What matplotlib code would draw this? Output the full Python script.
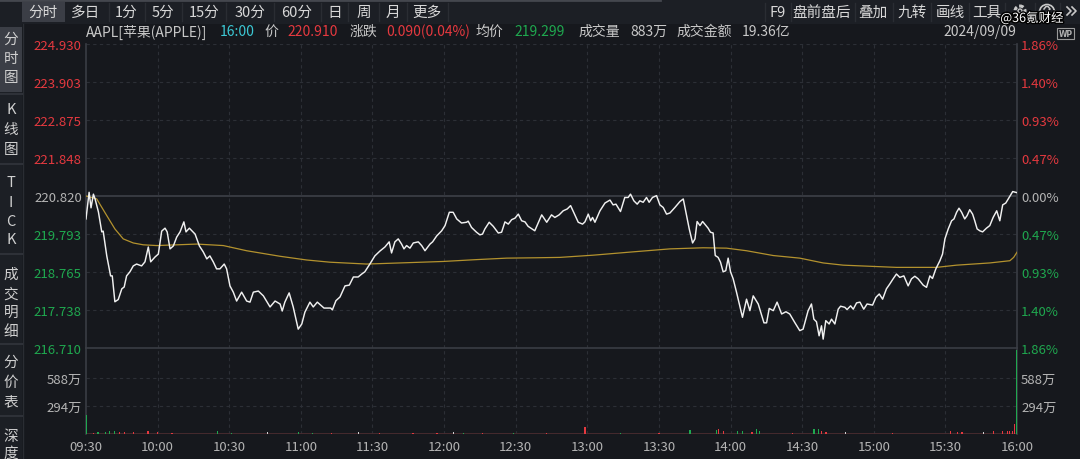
import matplotlib
matplotlib.use("Agg")
import matplotlib.pyplot as plt
from matplotlib.patches import Rectangle, Circle
import matplotlib.patheffects as pe

plt.rcParams['font.family'] = ['Noto Sans CJK SC', 'DejaVu Sans']

W, H = 1080, 460

# minutes after 09:30 and price
price_t = [0, 1.3, 2.1, 3.1, 3.8, 5.2, 6.6, 7.2, 8.7, 10.3,
           11.0, 12.1, 13.5, 15.0, 16.0, 17.0, 18.4, 19.8, 21.2, 23.3,
           24.7, 26.1, 27.1, 28.9, 30.3, 31.7, 33.1, 34.0, 35.2, 36.6,
           38.0, 39.4, 41.0, 41.9, 43.3, 45.7, 47.5, 49.1, 50.6, 51.9,
           53.3, 54.7, 56.1, 57.9, 58.9, 60.3, 61.7, 63.1, 65.2, 67.3,
           68.7, 70.1, 72.2, 74.3, 77.1, 79.2, 81.3, 82.2, 83.3, 85.1,
           86.8, 88.9, 90.4, 91.7, 93.8, 95.2, 96.9, 99.7, 102.5, 103.2,
           104.7, 106.4, 108.5, 110.3, 112.0, 114.0, 115.5, 116.8, 118.9, 121.0,
           123.1, 125.2, 127.0, 128.0, 129.4, 130.8, 132.2, 133.2, 134.3, 135.7,
           137.1, 139.2, 140.6, 142.0, 144.1, 145.2, 146.9, 149.0, 150.4, 152.2,
           153.8, 155.3, 157.3, 159.4, 160.1, 161.5, 163.6, 165.0, 166.1, 167.1,
           168.9, 170.6, 172.7, 174.1, 175.5, 176.9, 178.3, 179.7, 181.1, 182.5,
           183.9, 185.2, 188.0, 189.4, 190.9, 193.0, 195.0, 196.4, 198.2, 199.9,
           201.6, 203.0, 204.4, 206.2, 208.0, 209.0, 210.4, 211.4, 212.2, 213.2,
           215.3, 217.4, 219.5, 220.8, 222.0, 223.9, 225.7, 227.1, 228.1, 229.5,
           230.9, 232.0, 233.4, 234.8, 235.9, 237.3, 239.0, 240.4, 241.8, 243.2,
           244.6, 246.7, 248.8, 250.2, 251.6, 252.7, 254.1, 255.1, 256.0, 257.2,
           258.3, 259.7, 260.6, 261.6, 262.7, 263.6, 264.8, 265.8, 266.9, 268.0,
           269.0, 270.0, 271.1, 272.5, 275.0, 276.7, 278.1, 279.5, 281.6, 284.0,
           285.1, 286.2, 287.9, 289.5, 291.4, 293.2, 294.8, 296.9, 299.0, 300.4,
           302.5, 303.9, 304.9, 306.0, 307.1, 308.1, 308.8, 309.9, 311.3, 312.3,
           313.7, 315.1, 316.1, 317.9, 318.8, 320.3, 321.4, 322.8, 324.2, 325.8,
           327.2, 329.5, 330.9, 332.3, 333.7, 335.3, 336.7, 338.1, 339.5, 340.9,
           342.6, 344.4, 345.8, 347.2, 348.6, 350.7, 352.1, 353.5, 354.6, 356.0,
           357.7, 358.8, 359.8, 361.2, 362.6, 363.6, 364.7, 365.7, 366.8, 368.1,
           369.1, 370.2, 371.4, 372.3, 373.3, 374.4, 375.6, 377.2, 378.6, 380.0,
           381.5, 382.8, 384.0, 385.3, 386.7, 388.2, 390]
price_v = [220.20, 220.92, 220.50, 220.87, 220.74, 220.39, 219.85, 219.87, 219.20, 218.66,
           218.66, 217.96, 218.02, 218.31, 218.36, 218.66, 218.77, 218.93, 218.98, 218.93,
           219.04, 219.44, 219.04, 219.17, 219.25, 219.87, 219.95, 219.85, 219.39, 219.47,
           219.71, 219.85, 220.12, 219.85, 219.95, 219.79, 219.47, 219.31, 219.12, 219.20,
           219.04, 218.85, 218.85, 218.98, 218.85, 218.39, 218.22, 217.98, 218.22, 217.98,
           217.95, 218.22, 218.25, 218.12, 217.82, 217.98, 217.90, 217.71, 217.95, 218.20,
           217.82, 217.22, 217.36, 217.68, 217.95, 217.82, 217.95, 217.79, 217.79, 217.74,
           217.99, 218.09, 218.39, 218.41, 218.63, 218.63, 218.71, 218.77, 218.98, 219.20,
           219.33, 219.44, 219.58, 219.28, 219.58, 219.66, 219.52, 219.39, 219.48, 219.41,
           219.55, 219.58, 219.48, 219.34, 219.52, 219.58, 219.74, 219.88, 220.02, 220.38,
           220.38, 220.20, 220.09, 220.11, 220.14, 219.97, 219.84, 219.77, 219.79, 219.93,
           220.11, 220.00, 219.82, 219.84, 220.12, 220.06, 220.18, 220.22, 220.33, 220.15,
           220.12, 220.00, 219.88, 220.09, 220.31, 220.11, 220.31, 220.24, 220.31, 220.42,
           220.47, 220.56, 220.36, 220.11, 220.06, 220.12, 220.33, 220.15, 220.24, 220.11,
           220.42, 220.63, 220.71, 220.58, 220.60, 220.40, 220.78, 220.78, 220.87, 220.69,
           220.60, 220.69, 220.65, 220.78, 220.65, 220.78, 220.83, 220.58, 220.51, 220.33,
           220.36, 220.51, 220.67, 220.74, 220.29, 219.93, 219.55, 219.66, 220.13, 220.02,
           220.13, 220.02, 219.95, 219.84, 219.82, 219.21, 219.16, 219.03, 218.77, 218.80,
           219.14, 218.77, 218.58, 218.22, 217.54, 218.03, 217.72, 218.12, 217.90, 217.39,
           217.39, 217.78, 217.72, 217.95, 217.63, 217.69, 217.63, 217.40, 217.18, 217.22,
           217.72, 217.90, 217.49, 217.42, 217.04, 217.31, 216.95, 217.45, 217.36, 217.49,
           217.36, 217.76, 217.84, 217.81, 217.75, 217.85, 217.76, 217.93, 217.95, 217.76,
           217.90, 217.87, 218.08, 218.17, 218.03, 218.31, 218.44, 218.58, 218.71, 218.62,
           218.66, 218.39, 218.58, 218.65, 218.58, 218.41, 218.35, 218.66, 218.59, 218.85,
           219.07, 219.25, 219.66, 219.93, 220.15, 220.20, 220.38, 220.49, 220.38, 220.20,
           220.29, 220.45, 220.33, 220.15, 219.93, 219.88, 219.85, 219.95, 220.02, 220.24,
           220.42, 220.15, 220.58, 220.63, 220.78, 220.94, 220.91]
assert len(price_t) == len(price_v), (len(price_t), len(price_v))

# average price line
avg_t = [0, 4.5, 8.7, 12.1, 15.6, 19.8, 24.0, 29.6, 38.0, 46.4,
         57.5, 67.3, 81.3, 92.4, 102.2, 117.6, 131.5, 149.6, 163.6, 176.2,
         188.8, 198.5, 212.5, 229.2, 244.6, 258.5, 268.3, 276.7, 287.9, 299.0,
         308.8, 317.2, 328.3, 339.5, 356.3, 364.7, 378.6, 387.0, 388.6, 390]
avg_v = [220.82, 220.74, 220.29, 219.93, 219.66, 219.55, 219.50, 219.48, 219.50, 219.52,
         219.48, 219.34, 219.19, 219.09, 219.03, 218.98, 219.01, 219.05, 219.10, 219.14,
         219.15, 219.16, 219.22, 219.31, 219.39, 219.42, 219.41, 219.34, 219.21, 219.14,
         219.01, 218.95, 218.92, 218.89, 218.89, 218.95, 219.01, 219.07, 219.16, 219.30]

# volume bars (万), r = up, g = down, w = flat
vol_t = [0, 3, 5, 8, 10, 12, 14, 16, 20, 26, 30, 36, 55, 61, 76, 89, 95, 103, 114, 123,
         137, 147, 154, 158, 166, 179, 193, 209, 224, 240, 253, 264, 265, 267, 273, 275,
         279, 281, 282, 296, 305, 307, 308, 310, 318, 338, 362, 365, 367, 376, 380, 384,
         386, 387, 388, 389, 390]
vol_v = [200, 15, 25, 25, 35, 35, 20, 25, 20, 30, 20, 15, 35, 15, 20, 20, 15, 15, 20, 15,
         15, 15, 20, 15, 15, 15, 15, 75, 15, 15, 40, 40, 50, 30, 30, 30,
         20, 50, 30, 15, 50, 50, 35, 20, 20, 15, 30, 25, 20, 20, 30, 30,
         30, 35, 30, 100, 880]
vol_dir = list("grggggrrrrrrggwggrwrrrwgrgrrgrggrrggrggrggrrwrrrrwrrrrrrg")[:len(vol_t)]

left_ticks = [216.710, 217.738, 218.765, 219.793, 220.820, 221.848, 222.875, 223.903, 224.930]
right_labels = ['1.86%', '1.40%', '0.93%', '0.47%', '0.00%', '0.47%', '0.93%', '1.40%', '1.86%']
time_ticks = [0, 30, 60, 90, 120, 150, 180, 210, 240, 270, 300, 330, 360, 390]
time_labels = ['09:30', '10:00', '10:30', '11:00', '11:30', '12:00', '12:30', '13:00',
               '13:30', '14:00', '14:30', '15:00', '15:30', '16:00']
vol_ticks = [294, 588]
vol_labels = ['294万', '588万']

toolbar_left = ['分时', '多日', '1分', '5分', '15分', '30分', '60分', '日', '周', '月', '更多']
toolbar_left_x = [43, 86, 126, 163, 204, 250, 297, 335, 364, 393, 427]
toolbar_right = ['F9', '盘前盘后', '叠加', '九转', '画线', '工具']
toolbar_right_x = [778, 822, 873, 912, 950, 987]
side_chars = ['分', '时', '图', 'K', '线', '图', 'T', 'I', 'C', 'K',
              '成', '交', '明', '细', '分', '价', '表', '深', '度']
side_y = [40, 59, 78, 110, 130, 150, 183, 203, 222, 240, 275, 295, 313, 332, 363, 383, 402, 437, 454]

BG = '#16181d'
PANEL = '#1c1f25'
HILITE = '#3b3e46'
GRID = '#2c2f36'
AXIS = '#3a3d44'
RED = '#e5393f'
GREEN = '#1fa84f'
GRAY = '#b4b4b4'
CYAN = '#3cc8d4'

fig = plt.figure(figsize=(10.8, 4.6), dpi=100, facecolor=BG)

# pixel-space layer for the surrounding UI
deco = fig.add_axes([0, 0, 1, 1])
deco.set_xlim(0, W)
deco.set_ylim(H, 0)
deco.axis('off')

deco.add_patch(Rectangle((0, 0), W, 25, color=PANEL, lw=0))
deco.add_patch(Rectangle((0, 25), 22, H - 25, color=PANEL, lw=0))
deco.plot([0, 660], [1, 1], color='#44474e', lw=2)
deco.plot([22.5, 22.5], [25, H], color='#2a2d33', lw=1)
deco.add_patch(Rectangle((22, 3), 43, 20, color=HILITE, lw=0))
deco.add_patch(Rectangle((0, 28), 22, 65, color=HILITE, lw=0))

for lbl, x in zip(toolbar_left, toolbar_left_x):
    deco.text(x, 13, lbl, color='#d8d8d8', fontsize=10.5, ha='center', va='center')
for x in [109, 145, 182, 226, 274, 321, 348, 379, 407, 448]:
    deco.plot([x, x], [4, 22], color='#2a2d33', lw=1)
for lbl, x in zip(toolbar_right, toolbar_right_x):
    deco.text(x, 13, lbl, color='#d8d8d8', fontsize=10.5, ha='center', va='center')
for x in [765, 791, 855, 893, 931, 969, 1005, 1035, 1060]:
    deco.plot([x, x], [4, 22], color='#2a2d33', lw=1)
# icons drawn as shapes (gear, help, more)
deco.add_patch(Circle((1020, 12), 5, fill=False, ec='#c8c8c8', lw=2.2, ls=(0, (1.2, 0.8))))
deco.add_patch(Circle((1020, 12), 2, fill=False, ec='#c8c8c8', lw=1))
deco.add_patch(Circle((1047, 13), 7.5, fill=False, ec='#c8c8c8', lw=1.2))
deco.plot([1044, 1046, 1048, 1050, 1047], [10, 7.5, 7.5, 10, 13.5], color='#c8c8c8', lw=1.1)
deco.plot([1067, 1071, 1067], [8, 12, 16], color='#c8c8c8', lw=1.2)
deco.plot([1072, 1076, 1072], [8, 12, 16], color='#c8c8c8', lw=1.2)
deco.text(1032, 19, '@36氪财经', color='white', fontsize=9, ha='center', va='center',
          path_effects=[pe.withStroke(linewidth=2, foreground='black')])

for ch, y in zip(side_chars, side_y):
    deco.text(11, y, ch, color='#d0d0d0', fontsize=10.5, ha='center', va='center')
for y in [95, 165, 255, 345, 417]:
    deco.plot([0, 22], [y, y], color='#2e3138', lw=1.5)

# title row
title_items = [(86, 'AAPL[苹果(APPLE)]', '#c8c8c8'), (220, '16:00', CYAN), (264, '价', '#c8c8c8'),
               (287, '220.910', RED), (350, '涨跌', '#c8c8c8'), (386, '0.090(0.04%)', RED),
               (476, '均价', '#c8c8c8'), (514, '219.299', GREEN), (578, '成交量', '#c8c8c8'),
               (630, '883万', '#c8c8c8'), (676, '成交金额', '#c8c8c8'), (742, '19.36亿', '#c8c8c8')]
for x, s, c in title_items:
    deco.text(x, 32, s, color=c, fontsize=10, ha='left', va='center')
deco.text(1016, 32, '2024/09/09', color='#c8c8c8', fontsize=10, ha='right', va='center')
deco.add_patch(Rectangle((1057, 29), 17, 11, fill=False, ec='#9a9a9a', lw=0.8))
deco.text(1065.5, 34.5, 'WP', color='#b0b0b0', fontsize=5.5, ha='center', va='center',
          family='DejaVu Sans', weight='bold')


def box(l, t, r, b):
    return [l / W, 1 - b / H, (r - l) / W, (b - t) / H]


ax = fig.add_axes(box(86, 45, 1017, 349), facecolor='none')
axv = fig.add_axes(box(86, 349, 1017, 435), facecolor='none', sharex=ax)

ax.set_xlim(0, 390)
ax.set_ylim(left_ticks[0], left_ticks[-1])
for v in left_ticks[1:]:
    if v == left_ticks[4]:
        ax.axhline(v, color=AXIS, lw=1.3)
    else:
        ax.axhline(v, color=GRID, lw=0.8, ls=(0, (3, 3)))
for t in time_ticks[1:-1]:
    ax.axvline(t, color=GRID, lw=0.8, ls=(0, (3, 3)))
    axv.axvline(t, color=GRID, lw=0.8, ls=(0, (3, 3)))

ax.plot(avg_t, avg_v, color='#b3922e', lw=0.9, zorder=3)
ax.plot(price_t, price_v, color='#f0f0f0', lw=1.05, zorder=4)

ax.spines['top'].set_visible(False)
for s in ['left', 'right', 'bottom']:
    ax.spines[s].set_color(AXIS)
    ax.spines[s].set_linewidth(1.2)
ax.set_yticks(left_ticks)
ax.set_yticklabels([f'{v:.3f}' for v in left_ticks])
ax.tick_params(axis='y', length=0, pad=3, labelsize=9.5)
ax.tick_params(axis='x', length=0, labelbottom=False)
for i, lab in enumerate(ax.get_yticklabels()):
    lab.set_color(RED if i > 4 else (GRAY if i == 4 else GREEN))

ax_r = ax.twinx()
ax_r.set_ylim(ax.get_ylim())
ax_r.set_yticks(left_ticks)
ax_r.set_yticklabels(right_labels)
ax_r.tick_params(axis='y', length=0, pad=3, labelsize=9.5)
for s in ax_r.spines.values():
    s.set_visible(False)
for i, lab in enumerate(ax_r.get_yticklabels()):
    lab.set_color(RED if i > 4 else (GRAY if i == 4 else GREEN))

# volume pane
colors = {'r': RED, 'g': GREEN, 'w': '#d0d0d0'}
axv.set_ylim(0, 903)
for v in vol_ticks:
    axv.axhline(v, color=GRID, lw=0.8, ls=(0, (3, 3)))
axv.axhline(0, color='#4a2c30', lw=2.0, zorder=2)
axv.bar(vol_t, vol_v, width=0.5, color=[colors[d] for d in vol_dir], lw=0, zorder=3)
axv.set_yticks(vol_ticks)
axv.set_yticklabels(vol_labels)
axv.tick_params(axis='y', length=0, pad=3, labelsize=9.5, labelcolor=GRAY,
                labelright=True, labelleft=True)
axv.set_xticks(time_ticks)
axv.set_xticklabels(time_labels)
axv.tick_params(axis='x', length=0, pad=4, labelsize=9.5, labelcolor=GRAY)
for s in ['top', 'bottom']:
    axv.spines[s].set_visible(False)
for s in ['left', 'right']:
    axv.spines[s].set_color(AXIS)
    axv.spines[s].set_linewidth(1.2)

fig.savefig('out.png', dpi=100, facecolor=BG)
